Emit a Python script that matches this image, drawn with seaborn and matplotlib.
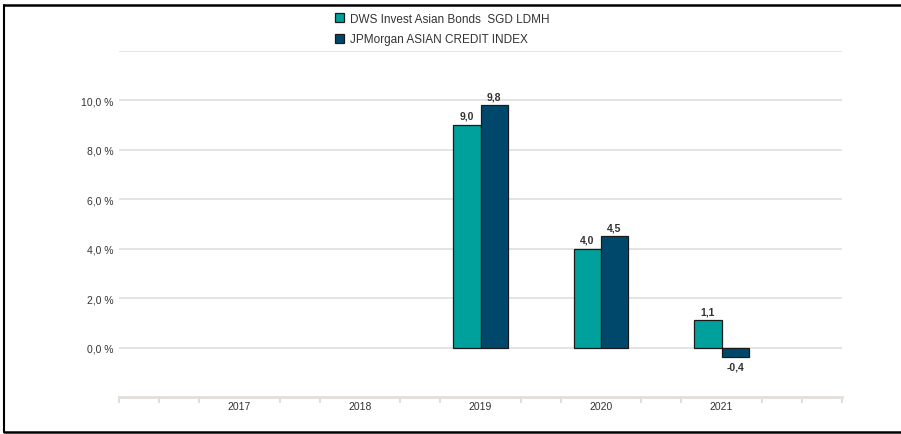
import numpy as np
import pandas as pd
import matplotlib
matplotlib.use("Agg")
import matplotlib.pyplot as plt
from matplotlib.lines import Line2D
import seaborn as sns

# ── data ──
years = ["2017", "2018", "2019", "2020", "2021"]
fund_name = "DWS Invest Asian Bonds  SGD LDMH"
index_name = "JPMorgan ASIAN CREDIT INDEX"
fund_vals = [np.nan, np.nan, 9.0, 4.0, 1.1]
index_vals = [np.nan, np.nan, 9.8, 4.5, -0.4]
y_ticks = [0, 2, 4, 6, 8, 10]

TEAL = "#00a19c"
NAVY = "#00486b"
GRID = "#e2dfda"
TEXT = "#333333"

df = pd.DataFrame({
    "year": years * 2,
    "series": [fund_name] * len(years) + [index_name] * len(years),
    "value": fund_vals + index_vals,
})

sns.set_style("white")
plt.rcParams["font.family"] = ["Liberation Sans", "DejaVu Sans"]

fig = plt.figure(figsize=(9.01, 4.35), dpi=100)
ax = fig.add_axes([119 / 901, 37 / 435, 723 / 901, 346 / 435])

sns.barplot(data=df, x="year", y="value", hue="series", order=years,
            palette=[TEAL, NAVY], saturation=1, width=0.45, errorbar=None,
            edgecolor="#1a1a1a", linewidth=0.9, ax=ax, zorder=3)

ax.set_xlim(-1, 5)
ax.set_ylim(-2, 12)

# grid lines
for v in range(0, 13, 2):
    ax.axhline(v, color=GRID, linewidth=1.2, zorder=1)

ax.set_yticks(y_ticks)
ax.set_yticklabels([f"{v:.1f} %".replace(".", ",") for v in y_ticks],
                   fontsize=7.5, color=TEXT)
ax.tick_params(axis="y", length=0, pad=4)

# x axis: labels at categories, small ticks between
ax.set_xticks(range(len(years)))
ax.set_xticklabels(years, fontsize=7.5, color=TEXT)
ax.tick_params(axis="x", which="major", bottom=True, length=0, pad=3)
minor = [i / 3 for i in range(-3, 16) if i % 3 != 0 or i in (-3, 15)]
ax.set_xticks(minor, minor=True)
ax.tick_params(axis="x", which="minor", bottom=True, length=4, width=1.5,
               color=GRID)

for s in ["top", "right", "left"]:
    ax.spines[s].set_visible(False)
ax.spines["bottom"].set_color(GRID)
ax.spines["bottom"].set_linewidth(2)

ax.set_xlabel("")
ax.set_ylabel("")

# value labels
for cont in ax.containers:
    labels = []
    for bar in cont:
        h = bar.get_height()
        labels.append("" if np.isnan(h) else f"{h:.1f}".replace(".", ","))
    ax.bar_label(cont, labels=labels, padding=3, fontsize=7.5,
                 fontweight="bold", color=TEXT)

# legend
handles, lbls = ax.get_legend_handles_labels()
ax.get_legend().remove()
fig.legend(handles, lbls, loc="upper left",
           bbox_to_anchor=(324 / 901, 1 - 3 / 435), frameon=False,
           fontsize=8.5, handlelength=0.8, handleheight=0.8,
           handletextpad=0.5, labelspacing=0.75, labelcolor=TEXT)

# outer frame (left, top, bottom)
fig.add_artist(Line2D([4 / 901, 4 / 901], [1 - 6 / 435, 2 / 435],
                      transform=fig.transFigure, color="black", linewidth=1.5))
fig.add_artist(Line2D([4 / 901, 1], [1 - 6 / 435, 1 - 6 / 435],
                      transform=fig.transFigure, color="black", linewidth=1.8))
fig.add_artist(Line2D([4 / 901, 1], [2 / 435, 2 / 435],
                      transform=fig.transFigure, color="black", linewidth=1.8))

fig.savefig("out.png", dpi=100)
